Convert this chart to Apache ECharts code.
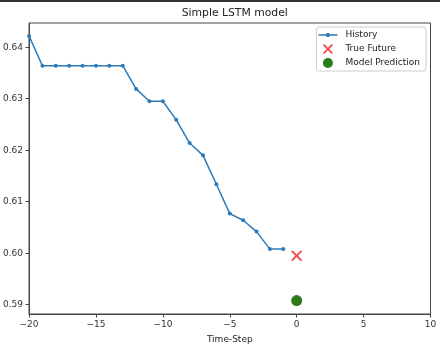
<!DOCTYPE html>
<html><head><meta charset="utf-8">
<script src="https://cdn.jsdelivr.net/npm/echarts@6/dist/echarts.min.js"></script>
<style>html,body{margin:0;padding:0;background:#fff}#top{position:absolute;left:0;top:0;width:440px;height:2px;background:#333}#c{width:440px;height:349px}</style>
</head><body><div id="c"></div><div id="top"></div>
<script>
const historySteps = [-20,-19,-18,-17,-16,-15,-14,-13,-12,-11,-10,-9,-8,-7,-6,-5,-4,-3,-2,-1];
const historyValues = [0.6422,0.6364,0.6364,0.6364,0.6364,0.6364,0.6364,0.6364,0.6319,0.6295,0.6295,0.6259,0.6214,0.6190,0.6134,0.6077,0.6064,0.6042,0.6008,0.6008];
const trueFuture = [[0, 0.5995]];
const modelPrediction = [[0, 0.5908]];
const xTicks = [-20,-15,-10,-5,0,5,10];
const yTicks = [0.59,0.60,0.61,0.62,0.63,0.64];

const F = 'DejaVu Sans';
const ax = '#444';
const xPath = 'path://M0,0.12 L0.12,0 L0.5,0.38 L0.88,0 L1,0.12 L0.62,0.5 L1,0.88 L0.88,1 L0.5,0.62 L0.12,1 L0,0.88 L0.38,0.5 Z';
const histIcon = 'path://M0,0L0.01,0L0,0.01Z M19,10L18.99,10L19,9.99Z M0,4.3L19,4.3L19,5.7L0,5.7Z M8.5,3L10.5,3L11.5,4L11.5,6L10.5,7L8.5,7L7.5,6L7.5,4Z';
const chart = echarts.init(document.getElementById('c'), null, {renderer:'canvas'});
chart.setOption({
  animation:false,
  backgroundColor:'#fff',
  title:{text:'Simple LSTM model', left:229.75, textAlign:'center', top:3,
    textStyle:{fontFamily:F, fontSize:10.8, fontWeight:'normal', color:'#222'}},
  grid:{left:29, right:9.5, top:23, bottom:32.5, show:true, borderColor:ax, borderWidth:1, containLabel:false},
  legend:{right:14, top:27, orient:'vertical', itemWidth:19, itemHeight:10, itemGap:4,
    padding:[3,6,3,2], borderColor:'#ccc', borderWidth:1, borderRadius:3, backgroundColor:'rgba(255,255,255,0.8)',
    textStyle:{fontFamily:F, fontSize:9, color:'#222', padding:[0,0,0,3]},
    data:[{name:'History', icon:histIcon},{name:'True Future'},{name:'Model Prediction'}]},
  xAxis:{type:'value', min:-20, max:10, interval:5,
    name:'Time-Step', nameLocation:'middle', nameGap:21, nameTextStyle:{fontFamily:F, fontSize:9, color:'#222'},
    axisLine:{show:true, onZero:false, lineStyle:{color:ax}}, axisTick:{show:true, length:3.5, lineStyle:{color:ax}},
    splitLine:{show:false},
    axisLabel:{fontFamily:F, fontSize:9, color:'#333', margin:6, formatter:v=>String(v).replace('-','\u2212')}},
  yAxis:{type:'value', min:0.5882, max:0.6447,
    axisLine:{show:true, onZero:false, lineStyle:{color:ax}},
    axisTick:{show:true, length:3.5, lineStyle:{color:ax}, customValues:yTicks},
    splitLine:{show:false},
    axisLabel:{fontFamily:F, fontSize:9, color:'#333', margin:6, customValues:yTicks, formatter:v=>v.toFixed(2)}},
  series:[
    {name:'History', type:'line', data:historySteps.map((s,i)=>[s,historyValues[i]]),
      symbol:'circle', symbolSize:4, showSymbol:true,
      lineStyle:{color:'#2b7bba', width:1.5}, itemStyle:{color:'#2b7bba'}},
    {name:'True Future', type:'scatter', data:trueFuture, symbol:xPath, symbolSize:11,
      itemStyle:{color:'#f04848', opacity:1}},
    {name:'Model Prediction', type:'scatter', data:modelPrediction, symbol:'circle', symbolSize:11,
      itemStyle:{color:'#2b7a1c', opacity:1}}
  ]
});
</script></body></html>
